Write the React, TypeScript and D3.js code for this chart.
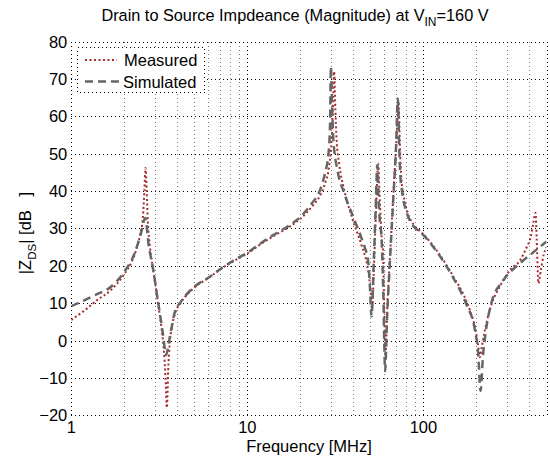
import React from 'react';
import * as d3 from 'd3';

// Simulated |Z_DS| (frequency in MHz, magnitude in dB)
const simFreq = [1, 1.2, 1.4, 1.68, 2.0, 2.29, 2.49, 2.63, 2.75, 2.9, 3.1, 3.31, 3.46, 3.58, 3.69, 3.86, 4.2, 5.0, 6.0, 7.1, 8.46, 10, 11.8, 14, 17.4, 20, 23.2, 25.9, 27.6, 28.9, 29.5, 29.8, 30.4, 30.8, 32.5, 35.5, 39.9, 43.6, 46.3, 48.6, 49.6, 50.7, 52.3, 53.6, 54.7, 55.6, 56.5, 57.8, 59.2, 60.6, 62.0, 63.5, 65.5, 67.2, 69.9, 71.6, 72.8, 73.8, 75.4, 80.6, 87.7, 95, 100, 119, 148, 176, 196, 205, 211, 218, 224, 243, 285, 354, 420, 500];
const simDb = [9.2, 10.9, 12.4, 14.4, 18.4, 23.4, 28.8, 32.8, 25.5, 19.8, 10.8, 2.0, -3.9, -0.5, 2.8, 7.4, 10.4, 14.4, 16.8, 19.3, 21.6, 23.5, 25.9, 28.2, 30.9, 33.1, 36.7, 40.3, 44.8, 50.1, 58.2, 73.3, 60, 53.7, 45.6, 39.4, 33.1, 28.5, 25.1, 21, 15, 6.4, 22, 36, 47, 38, 32, 27.5, 12, -8.2, 5, 15, 27, 36.7, 51.9, 64.8, 52, 44.8, 40.3, 34.1, 30.6, 29.2, 28.2, 23.8, 16.7, 9.5, 2.8, -4, -13.5, -4, 1, 10, 16.2, 20.7, 23.6, 26.5];

// Measured |Z_DS|
const measFreq = [1, 1.2, 1.4, 1.68, 2.0, 2.29, 2.45, 2.55, 2.6, 2.64, 2.68, 2.72, 2.8, 2.95, 3.1, 3.25, 3.36, 3.43, 3.49, 3.55, 3.62, 3.72, 3.9, 4.2, 5.0, 6.0, 7.1, 8.46, 10, 12, 14, 17.4, 20, 23.2, 26, 27.8, 29.2, 30.2, 30.7, 31.1, 31.6, 32.1, 33.2, 35.5, 39.5, 44.5, 48, 50, 51.2, 52.2, 53.6, 55.4, 56.2, 57, 57.8, 58.8, 59.8, 60.8, 62.5, 65, 68, 70.5, 72.2, 73.5, 75, 77, 81, 88, 95, 100, 119, 148, 170, 185, 196, 205, 209, 214, 218, 230, 243, 271, 311, 354, 387, 405, 421, 433, 440, 450, 465, 482, 500];
const measDb = [5.5, 8.2, 10.8, 13.5, 17.8, 23, 28, 33, 40, 46.2, 40, 32, 25, 17.5, 10.5, 3.5, -3, -10, -18, -8, -1, 3.5, 7.5, 10.2, 14.2, 16.7, 19.2, 21.4, 23.3, 25.9, 27.9, 30.5, 32.6, 35.8, 39, 42.5, 47, 55, 64, 72, 62, 54, 47.4, 40.3, 32.6, 25.5, 20, 14, 9, 18, 33, 47.4, 40, 34, 28, 25, 10, -4, 10, 25, 42, 55, 63.6, 52, 43, 39, 34.5, 31, 29.4, 28.4, 24.1, 17.1, 12, 7.7, 3.7, -1.7, -4.5, -2, 0.1, 5.5, 9.5, 14.4, 18.9, 21.5, 25.1, 27.4, 31.4, 34.2, 27, 15.3, 19, 23, 25];

const yTicks = [-20, -10, 0, 10, 20, 30, 40, 50, 60, 70, 80];
const xTickLabels = [1, 10, 100];
const xMinorGrid = [2, 3, 4, 5, 6, 7, 8, 9, 20, 30, 40, 50, 60, 70, 80, 90, 200, 300, 400];

const FONT = "'Liberation Sans', Arial, Helvetica, sans-serif";

export default function App() {
  const left = 71.3, right = 546.5, top = 41.7, bottom = 415.2;
  const x = d3.scaleLog().domain([1, 500]).range([left, right]);
  const y = d3.scaleLinear().domain([-20, 80]).range([bottom, top]);
  const line = d3.line<[number, number]>().x(d => x(d[0])).y(d => y(d[1])).curve(d3.curveMonotoneX);
  const simPath = line(simFreq.map((f, i) => [f, simDb[i]] as [number, number])) || '';
  const measPath = line(measFreq.map((f, i) => [f, measDb[i]] as [number, number])) || '';
  const snap = (v: number) => Math.round(v) + 0.5;
  const dot = '1,3';
  const gridY = yTicks.filter(t => t > -20 && t < 80);
  const measColor = '#a82a2a';
  const simColor = '#656565';

  return (
    <svg width={550} height={459} style={{ position: 'absolute', left: 0, top: 0, background: '#fff' }} fontFamily={FONT}>
      <rect x={0} y={0} width={550} height={459} fill="#fff" />
      <defs>
        <clipPath id="plotClip">
          <rect x={left} y={top} width={right - left} height={bottom - top} />
        </clipPath>
      </defs>
      {/* grid */}
      <g strokeWidth={1} strokeDasharray={dot} shapeRendering="crispEdges">
        {xMinorGrid.map(v => (
          <line key={'gm' + v} x1={snap(x(v))} x2={snap(x(v))} y1={top} y2={bottom} stroke="#777" />
        ))}
        {[10, 100].map(v => (
          <line key={'gx' + v} x1={snap(x(v))} x2={snap(x(v))} y1={top} y2={bottom} stroke="#000" />
        ))}
        {gridY.map(v => (
          <line key={'gy' + v} x1={left} x2={right} y1={snap(y(v))} y2={snap(y(v))} stroke="#000" />
        ))}
        {/* box */}
        <g stroke="#000">
          <line x1={snap(left)} x2={snap(left)} y1={top} y2={bottom} />
          <line x1={snap(right)} x2={snap(right)} y1={top} y2={bottom} />
          <line x1={left} x2={right} y1={snap(top)} y2={snap(top)} />
          <line x1={left} x2={right} y1={snap(bottom)} y2={snap(bottom)} />
        </g>
      </g>
      {/* data */}
      <g clipPath="url(#plotClip)" fill="none">
        <path d={measPath} stroke={measColor} strokeWidth={2} strokeDasharray="2,2.5" />
        <path d={simPath} stroke={simColor} strokeWidth={2.5} strokeDasharray="8,5" />
      </g>
      {/* y tick labels */}
      <g fontSize={16.5} textAnchor="end" fill="#000">
        {yTicks.map(t => (
          <text key={'yt' + t} x={left - 4} y={y(t) + 6}>{t < 0 ? '\u2212' + Math.abs(t) : t}</text>
        ))}
      </g>
      {/* x tick labels */}
      <g fontSize={16.5} textAnchor="middle" fill="#000">
        {xTickLabels.map(t => (
          <text key={'xt' + t} x={x(t)} y={433}>{t}</text>
        ))}
      </g>
      {/* axis labels */}
      <text x={309} y={452} fontSize={16.5} textAnchor="middle">Frequency [MHz]</text>
      <text transform="translate(31,233) rotate(-90)" fontSize={16.5} textAnchor="middle" style={{ whiteSpace: 'pre' }}>
        |Z<tspan dy={5} fontSize={11.5}>DS</tspan><tspan dy={-5}>| [dB   ]</tspan>
      </text>
      {/* title */}
      <text x={295} y={21} fontSize={16.3} textAnchor="middle">
        Drain to Source Impdeance (Magnitude) at V<tspan dy={5} fontSize={12}>IN</tspan><tspan dy={-5}>=160 V</tspan>
      </text>
      {/* legend */}
      <rect x={77.5} y={47.5} width={127} height={45} fill="#fff" stroke="#000" strokeWidth={1} strokeDasharray={dot} shapeRendering="crispEdges" />
      <line x1={85} x2={117} y1={60} y2={60} stroke={measColor} strokeWidth={2} strokeDasharray="2,2.5" />
      <text x={124} y={66} fontSize={16.5}>Measured</text>
      <line x1={85} x2={121} y1={81.5} y2={81.5} stroke={simColor} strokeWidth={2.5} strokeDasharray="8,5" />
      <text x={123} y={87.5} fontSize={16.5}>Simulated</text>
    </svg>
  );
}
